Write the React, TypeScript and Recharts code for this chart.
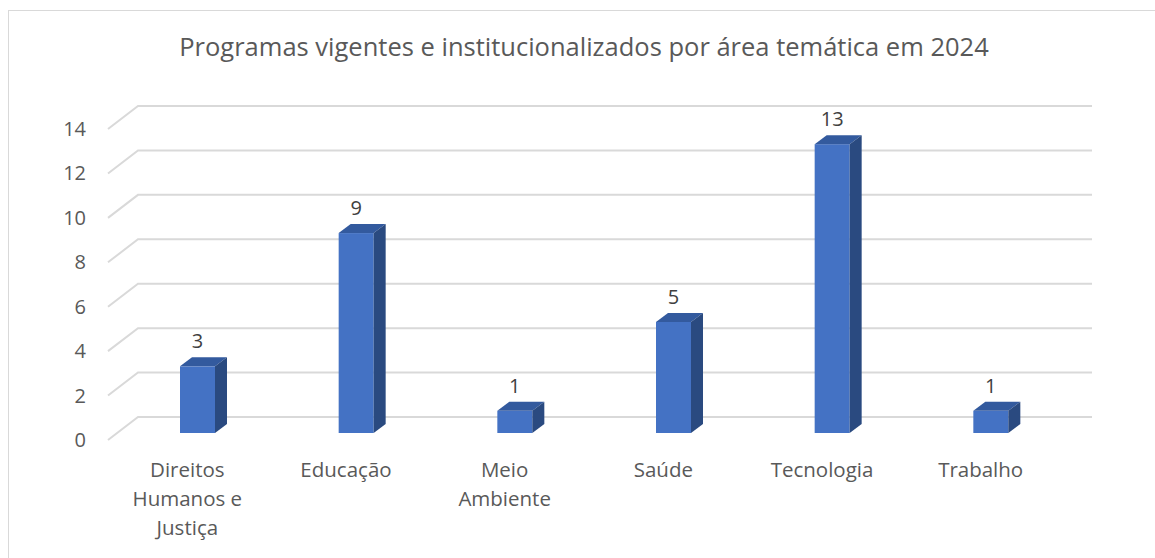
import { BarChart, Bar, XAxis, YAxis, CartesianGrid, LabelList } from "recharts";

const categories = ["Direitos Humanos e Justiça", "Educação", "Meio Ambiente", "Saúde", "Tecnologia", "Trabalho"];
const programas = [3, 9, 1, 5, 13, 1];
const yTicks = [0, 2, 4, 6, 8, 10, 12, 14];

const data = categories.map((name, i) => ({ name, programas: programas[i] }));

const FONT = "'Open Sans', sans-serif";
const TEXT_COLOR = "#595959";
const GRID_COLOR = "#d9d9d9";
const LABEL_SIZE = 20.5;

// depth offsets for the fake 3D look
const DX = 12;
const DY = 9;

let measureCtx: CanvasRenderingContext2D | null = null;
function wrapWords(text: string, maxWidth: number): string[] {
  if (!measureCtx) measureCtx = document.createElement("canvas").getContext("2d");
  const ctx = measureCtx!;
  ctx.font = `${LABEL_SIZE}px ${FONT}`;
  const lines: string[] = [];
  let current = "";
  for (const word of text.split(" ")) {
    const test = current ? `${current} ${word}` : word;
    if (current && ctx.measureText(test).width > maxWidth) {
      lines.push(current);
      current = word;
    } else {
      current = test;
    }
  }
  if (current) lines.push(current);
  return lines;
}

const Bar3D = (props: any) => {
  const { x, y, width, height } = props;
  if (height <= 0) return null;
  return (
    <g>
      <rect x={x} y={y} width={width} height={height} fill="#4472c4" />
      <polygon
        points={`${x},${y} ${x + DX},${y - DY} ${x + width + DX},${y - DY} ${x + width},${y}`}
        fill="#335a9e"
      />
      <polygon
        points={`${x + width},${y} ${x + width + DX},${y - DY} ${x + width + DX},${y + height - DY} ${x + width},${y + height}`}
        fill="#2a4a80"
      />
    </g>
  );
};

// gridline: diagonal from the front edge, then flat along the back wall
const GridLine = (props: any) => {
  const { x1, y1, x2, index } = props;
  return (
    <polyline
      key={`grid-${index}`}
      points={`${x1 - 10},${y1 + 7} ${x1 + 20},${y1 - 16} ${x2 + 22},${y1 - 16}`}
      fill="none"
      stroke={GRID_COLOR}
      strokeWidth={2}
    />
  );
};

const YTick = ({ x, y, payload }: any) => (
  <text x={x - 24} y={y + 7} dy={7} textAnchor="end" fill={TEXT_COLOR} fontSize={20} fontFamily={FONT}>
    {payload.value}
  </text>
);

const XTick = ({ x, y, payload }: any) => {
  const lines = wrapWords(String(payload.value), 125);
  return (
    <text textAnchor="middle" fill={TEXT_COLOR} fontSize={LABEL_SIZE} fontFamily={FONT}>
      {lines.map((line, i) => (
        <tspan key={i} x={x - 10} y={y + 36 + i * 29}>
          {line}
        </tspan>
      ))}
    </text>
  );
};

const ValueLabel = ({ x, y, width, value }: any) => (
  <text x={x + width / 2} y={y - 18} textAnchor="middle" fill="#404040" fontSize={20} fontFamily={FONT}>
    {value}
  </text>
);

export default function App() {
  return (
    <div style={{ position: "absolute", left: 0, top: 0, width: 1155, height: 558, overflow: "hidden", background: "#fff" }}>
      <div
        style={{
          position: "absolute",
          left: 8,
          top: 10,
          width: 1170,
          height: 600,
          border: `1px solid ${GRID_COLOR}`,
        }}
      />
      <div
        style={{
          position: "absolute",
          left: 0,
          width: 1168,
          top: 29,
          textAlign: "center",
          fontFamily: FONT,
          fontSize: 25.5,
          color: TEXT_COLOR,
        }}
      >
        Programas vigentes e institucionalizados por área temática em 2024
      </div>
      <div style={{ position: "absolute", left: 0, top: 0 }}>
        <BarChart width={1155} height={558} data={data} margin={{ top: 122, right: 85, bottom: 95, left: 58 }}>
          <CartesianGrid vertical={false} horizontal={GridLine} />
          <XAxis dataKey="name" axisLine={false} tickLine={false} height={30} tick={XTick} interval={0} />
          <YAxis
            domain={[0, 14]}
            ticks={yTicks}
            axisLine={false}
            tickLine={false}
            width={60}
            tick={YTick}
            interval={0}
          />
          <Bar dataKey="programas" barSize={35} shape={Bar3D} isAnimationActive={false}>
            <LabelList dataKey="programas" content={ValueLabel} />
          </Bar>
        </BarChart>
      </div>
    </div>
  );
}
